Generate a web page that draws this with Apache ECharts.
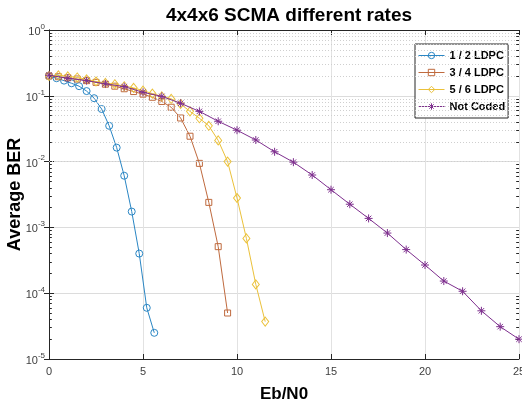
<!DOCTYPE html>
<html>
<head>
<meta charset="utf-8">
<script src="https://cdn.jsdelivr.net/npm/echarts@6/dist/echarts.min.js"></script>
<style>
html,body{margin:0;padding:0;background:#fff;}
#chart{width:522px;height:413px;}
</style>
</head>
<body>
<div id="chart"></div>
<script>
// ---- data ----
const seriesNames = ['1 / 2 LDPC', '3 / 4 LDPC', '5 / 6 LDPC', 'Not Coded'];

const halfX = [0, 0.4, 0.8, 1.2, 1.6, 2.0, 2.4, 2.8, 3.2, 3.6, 4.0, 4.4, 4.8, 5.2, 5.6];
const halfY = [0.20, 0.185, 0.17, 0.155, 0.14, 0.118, 0.092, 0.063, 0.035, 0.0163, 0.0061, 0.00174, 0.0004, 6.0e-5, 2.5e-5];

const threeQX = [0, 0.5, 1, 1.5, 2, 2.5, 3, 3.5, 4, 4.5, 5, 5.5, 6, 6.5, 7, 7.5, 8, 8.5, 9, 9.5];
const threeQY = [0.20, 0.195, 0.188, 0.18, 0.17, 0.16, 0.15, 0.14, 0.128, 0.116, 0.106, 0.095, 0.082, 0.067, 0.046, 0.0243, 0.0094, 0.0024, 5.1e-4, 5.0e-5];

const fiveSX = [0, 0.5, 1, 1.5, 2, 2.5, 3, 3.5, 4, 4.5, 5, 5.5, 6, 6.5, 7, 7.5, 8, 8.5, 9, 9.5, 10, 10.5, 11, 11.5];
const fiveSY = [0.20, 0.205, 0.198, 0.19, 0.178, 0.165, 0.157, 0.15, 0.14, 0.132, 0.12, 0.108, 0.098, 0.09, 0.075, 0.058, 0.0455, 0.035, 0.021, 0.0100, 0.0028, 6.8e-4, 1.36e-4, 3.7e-5];

const uncodedX = [0, 1, 2, 3, 4, 5, 6, 7, 8, 9, 10, 11, 12, 13, 14, 15, 16, 17, 18, 19, 20, 21, 22, 23, 24, 25];
const uncodedY = [0.205, 0.185, 0.17, 0.152, 0.138, 0.113, 0.098, 0.077, 0.058, 0.041, 0.030, 0.0213, 0.0141, 0.0098, 0.00625, 0.00374, 0.00225, 0.00137, 8.2e-4, 4.6e-4, 2.68e-4, 1.53e-4, 1.07e-4, 5.4e-5, 3.1e-5, 2.0e-5];

const xTicks = [0, 5, 10, 15, 20, 25];
const yDecades = [1, 0.1, 0.01, 0.001, 0.0001, 0.00001];

// ---- build ----
function pairs(xs, ys) { return xs.map((x, i) => [x, ys[i]]); }

const FONT = '"Liberation Sans", Arial, Helvetica, sans-serif';
const AX = '#262626';

// minor grid (2..9 within each decade) and minor ticks
const minorVals = [];
for (let d = 1; d < yDecades.length; d++) {
  for (let m = 2; m <= 9; m++) minorVals.push(m * yDecades[d]);
}
const minorGrid = minorVals.map(v => ({ yAxis: v }));
const minorTicks = [];
minorVals.forEach(v => {
  minorTicks.push([{ coord: [0, v] }, { coord: [0.15, v] }]);
  minorTicks.push([{ coord: [24.85, v] }, { coord: [25, v] }]);
});

const asterisk = 'path://M5,0L5,10M0,5L10,5M1.6,1.6L8.4,8.4M8.4,1.6L1.6,8.4';

const colors = ['#2A86C4', '#BF6A3E', '#EBC13A', '#7E2F8E'];
const symbols = ['circle', 'rect', 'diamond', asterisk];
const sizes = [7, 6, [7, 9], 8];
const datas = [pairs(halfX, halfY), pairs(threeQX, threeQY), pairs(fiveSX, fiveSY), pairs(uncodedX, uncodedY)];

const series = [{
  name: 'grid',
  type: 'line',
  data: [],
  silent: true,
  z: 1,
  markLine: {
    silent: true,
    symbol: 'none',
    label: { show: false },
    animation: false,
    data: minorGrid,
    lineStyle: { color: '#cfcfcf', type: [1, 2], width: 1 }
  }
}, {
  name: 'ticks',
  type: 'line',
  data: [],
  silent: true,
  z: 1,
  markLine: {
    silent: true,
    symbol: 'none',
    label: { show: false },
    animation: false,
    data: minorTicks,
    lineStyle: { color: AX, type: 'solid', width: 1 }
  }
}];

seriesNames.forEach((n, i) => {
  series.push({
    name: n,
    type: 'line',
    data: datas[i],
    z: 3 + i,
    symbol: symbols[i],
    symbolSize: sizes[i],
    symbolKeepAspect: true,
    showAllSymbol: true,
    lineStyle: { color: colors[i], width: 1, type: 'solid' },
    itemStyle: {
      color: i === 3 ? colors[i] : 'rgba(255,255,255,0)',
      borderColor: colors[i],
      borderWidth: 1
    },
    emphasis: { disabled: true },
    animation: false
  });
});

const legendData = seriesNames.map((n, i) => ({
  name: n,
  itemStyle: {
    color: i === 3 ? colors[i] : 'rgba(255,255,255,0)',
    borderColor: colors[i],
    borderWidth: 1
  },
  lineStyle: { color: colors[i], width: 1, type: 'solid' }
}));

const chart = echarts.init(document.getElementById('chart'), null, { renderer: 'canvas' });
chart.setOption({
  backgroundColor: '#ffffff',
  animation: false,
  title: {
    text: '4x4x6 SCMA different rates',
    left: 284,
    textAlign: 'center',
    top: 1,
    textStyle: { fontFamily: FONT, fontSize: 19, fontWeight: 'bold', color: '#000' }
  },
  legend: {
    data: legendData,
    orient: 'vertical',
    left: 415,
    top: 44,
    backgroundColor: '#ffffff',
    borderColor: AX,
    borderWidth: 1,
    borderRadius: 0,
    padding: [6, 3, 6, 3],
    itemGap: 6,
    itemWidth: 26,
    itemHeight: 8,
    textStyle: { fontFamily: FONT, fontSize: 11, fontWeight: 'bold', color: '#000' }
  },
  grid: { left: 49, right: 3, top: 30, bottom: 54, containLabel: false, outerBoundsMode: 'none' },
  xAxis: [{
    type: 'value',
    min: 0, max: 25, interval: 5,
    position: 'bottom',
    name: 'Eb/N0',
    nameLocation: 'middle',
    nameGap: 27,
    nameMoveOverlap: false,
    nameTextStyle: { fontFamily: FONT, fontSize: 17, fontWeight: 'bold', color: '#000' },
    axisLine: { show: true, lineStyle: { color: AX, width: 1 } },
    axisTick: { show: true, inside: true, length: 5, lineStyle: { color: AX } },
    axisLabel: { fontFamily: FONT, fontSize: 11, color: '#404040', margin: 7 },
    splitLine: { show: true, lineStyle: { color: '#e2e2e2', width: 1 } }
  }, {
    type: 'value',
    min: 0, max: 25, interval: 5,
    position: 'top',
    axisLine: { show: true, lineStyle: { color: AX, width: 1 } },
    axisTick: { show: true, inside: true, length: 5, lineStyle: { color: AX } },
    axisLabel: { show: false },
    splitLine: { show: false }
  }],
  yAxis: [{
    type: 'log',
    logBase: 10,
    min: 1e-5, max: 1,
    position: 'left',
    name: 'Average BER',
    nameLocation: 'middle',
    nameGap: 25,
    nameMoveOverlap: false,
    nameTextStyle: { fontFamily: FONT, fontSize: 18, fontWeight: 'bold', color: '#000' },
    axisLine: { show: true, lineStyle: { color: AX, width: 1 } },
    axisTick: { show: true, inside: true, length: 5, lineStyle: { color: AX } },
    axisLabel: {
      margin: 4,
      formatter: function (v) {
        const e = Math.round(Math.log10(v));
        return '{b|10}{s|' + e + '}';
      },
      rich: {
        b: { fontFamily: FONT, fontSize: 11, color: '#404040', padding: [4, 0, 0, 0] },
        s: { fontFamily: FONT, fontSize: 8, color: '#404040', padding: [0, 0, 7, 0] }
      }
    },
    splitLine: { show: true, lineStyle: { color: '#dcdcdc', width: 1 } }
  }, {
    type: 'log',
    logBase: 10,
    min: 1e-5, max: 1,
    position: 'right',
    axisLine: { show: true, lineStyle: { color: AX, width: 1 } },
    axisTick: { show: true, inside: true, length: 5, lineStyle: { color: AX } },
    axisLabel: { show: false },
    splitLine: { show: false }
  }],
  series: series
});
</script>
</body>
</html>
